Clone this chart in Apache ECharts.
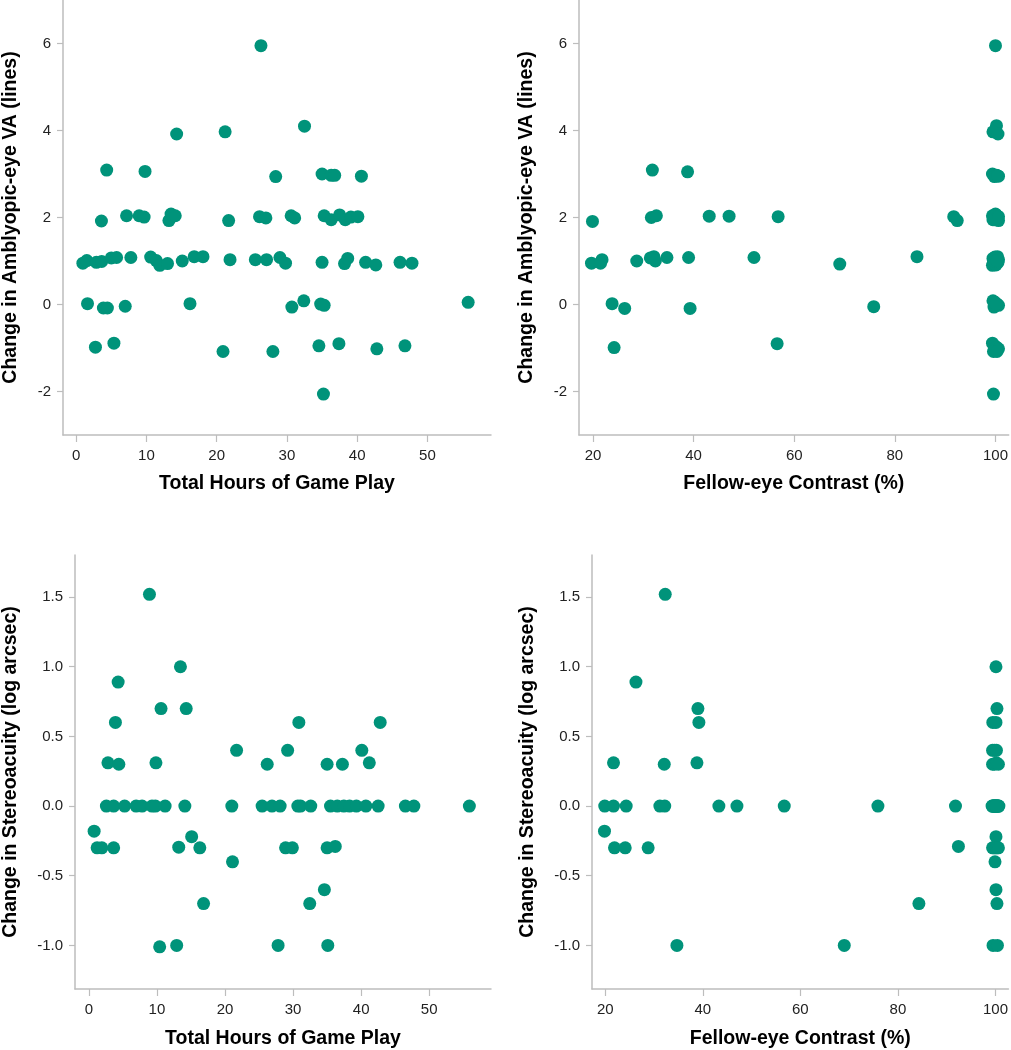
<!DOCTYPE html>
<html><head><meta charset="utf-8">
<script src="https://cdn.jsdelivr.net/npm/echarts@6/dist/echarts.min.js"></script>
<style>html,body{margin:0;padding:0;background:#fff}#c{width:1011px;height:1050px}</style>
</head><body><div id="c"></div><script>
// Panel A: Total hours vs change in amblyopic-eye VA
const hoursA = [26.3, 14.3, 21.2, 32.5,
  4.34, 9.8, 28.4, 35.0, 36.3, 36.8, 40.6,
  3.59, 7.17, 8.96, 9.67, 13.2, 13.5, 14.1, 21.7, 26.1, 27.0, 30.6, 31.1, 35.3, 36.3, 37.5, 38.3, 39.1, 40.1,
  0.95, 1.51, 2.87, 3.63, 5.0, 5.75, 7.78, 10.6, 11.4, 11.9, 13.0, 15.1, 16.8, 18.05, 21.9, 25.5, 27.1, 29.0, 29.8, 35.0, 38.2, 38.65, 41.2, 42.65, 46.1, 47.8,
  1.61, 3.87, 4.44, 6.98, 16.2, 30.7, 32.4, 34.8, 35.3, 55.8,
  2.74, 5.37, 20.9, 28.0, 34.55, 37.4, 42.8, 46.8,
  35.2];
const vaA = [5.95, 3.92, 3.97, 4.10,
  3.09, 3.06, 2.94, 3.0, 2.97, 2.97, 2.95,
  1.92, 2.04, 2.04, 2.01, 1.93, 2.08, 2.04, 1.93, 2.02, 1.99, 2.04, 1.99, 2.04, 1.95, 2.06, 1.95, 2.01, 2.02,
  0.95, 1.01, 0.97, 0.99, 1.07, 1.08, 1.08, 1.09, 1.01, 0.90, 0.94, 1.0, 1.10, 1.10, 1.03, 1.03, 1.03, 1.08, 0.95, 0.97, 0.94, 1.06, 0.97, 0.91, 0.97, 0.95,
  0.02, -0.08, -0.08, -0.04, 0.02, -0.06, 0.085, 0.01, -0.02, 0.05,
  -0.98, -0.89, -1.08, -1.08, -0.95, -0.90, -1.02, -0.95,
  -2.06];

// Panel B: Fellow-eye contrast vs change in amblyopic-eye VA
const contrastB = [100, 100.2, 99.5, 100.5,
  31.8, 38.8, 99.4, 100.2, 100.6, 99.8, 100.4,
  19.9, 31.6, 32.6, 43.1, 47.05, 56.8, 91.7, 92.4, 99.4, 99.7, 100.0, 100.3, 100.6, 99.5, 100.1, 100.4, 99.8, 100.6,
  19.7, 21.8, 21.5, 28.7, 31.4, 32.1, 32.4, 34.7, 39.0, 52.0, 69.05, 84.4,
  99.4, 99.7, 100.0, 100.3, 100.6, 99.5, 99.9, 100.2, 100.5, 99.6, 100.1, 100.4, 99.8, 100.3,
  23.8, 26.3, 39.3, 75.8, 99.5, 99.9, 100.3, 100.6, 99.7, 100.1,
  24.2, 56.6, 99.4, 99.8, 100.2, 100.6, 99.6, 100.3,
  99.6];
const vaB = [5.95, 4.11, 3.97, 3.92,
  3.09, 3.05, 3.0, 2.97, 2.95, 2.94, 2.96,
  1.91, 2.0, 2.04, 2.03, 2.03, 2.02, 2.02, 1.93, 2.04, 1.99, 2.08, 2.04, 1.93, 1.95, 2.06, 2.01, 1.95, 2.02,
  0.95, 1.03, 0.95, 1.0, 1.07, 1.10, 1.0, 1.08, 1.08, 1.08, 0.93, 1.10,
  0.90, 0.94, 0.97, 1.01, 1.03, 1.06, 1.09, 0.95, 0.97, 1.03, 0.91, 1.10, 0.99, 1.01,
  0.02, -0.09, -0.09, -0.05, 0.085, 0.05, 0.01, -0.02, -0.06, 0.02,
  -0.99, -0.90, -0.89, -0.95, -0.98, -1.02, -1.08, -1.08,
  -2.06];

// Panel C: Total hours vs change in stereoacuity
const hoursC = [8.9, 13.45, 4.3, 10.6, 14.3, 3.9, 30.85, 42.8, 21.7, 29.2, 40.1,
  2.8, 4.4, 9.85, 26.2, 35.0, 37.25, 41.2,
  2.57, 3.64, 5.25, 6.94, 7.81, 9.27, 9.77, 11.2, 14.1, 21.0, 25.45, 26.9, 28.1, 30.7, 31.1, 32.6, 35.5, 36.5, 37.46, 38.3, 39.3, 40.7, 42.5, 46.5, 47.75, 55.9,
  0.77, 15.1, 1.21, 1.9, 3.64, 13.2, 16.3, 28.9, 29.9, 35.0, 36.2, 21.1, 34.6, 16.85, 32.45, 10.4, 12.9, 27.8, 35.1];
const stereoC = [1.52, 1.0, 0.89, 0.70, 0.70, 0.60, 0.60, 0.60, 0.40, 0.40, 0.40,
  0.31, 0.30, 0.31, 0.30, 0.30, 0.30, 0.31,
  0, 0, 0, 0, 0, 0, 0, 0, 0, 0, 0, 0, 0, 0, 0, 0, 0, 0, 0, 0, 0, 0, 0, 0, 0, 0,
  -0.18, -0.22, -0.30, -0.30, -0.30, -0.295, -0.30, -0.30, -0.30, -0.30, -0.29, -0.40, -0.60, -0.70, -0.70, -1.01, -1.0, -1.0, -1.0];

// Panel D: Fellow-eye contrast vs change in stereoacuity
const contrastD = [32.3, 100.1, 26.3, 39.0, 100.3, 39.2, 99.45, 100.1, 99.4, 99.8, 100.2,
  21.7, 32.1, 38.8, 99.4, 99.8, 100.2, 100.6,
  19.9, 21.7, 24.3, 31.2, 32.2, 43.3, 47.0, 56.7, 75.9, 91.8,
  99.3, 99.5, 99.7, 99.9, 100.1, 100.3, 100.5, 100.7, 99.4, 99.6, 99.8, 100.0, 100.2, 100.4, 100.6, 100.0,
  19.85, 100.1, 21.9, 24.1, 28.8, 92.4, 99.4, 99.7, 100.0, 100.3, 100.6, 99.9, 100.1, 84.3, 100.3, 34.7, 69.0, 99.5, 100.4];
const stereoD = [1.52, 1.0, 0.89, 0.70, 0.70, 0.60, 0.60, 0.60, 0.40, 0.40, 0.40,
  0.31, 0.30, 0.31, 0.30, 0.30, 0.31, 0.30,
  0, 0, 0, 0, 0, 0, 0, 0, 0, 0,
  0, 0, 0, 0, 0, 0, 0, 0, 0, 0, 0, 0, 0, 0, 0, 0,
  -0.18, -0.22, -0.30, -0.30, -0.30, -0.29, -0.30, -0.30, -0.30, -0.30, -0.30, -0.40, -0.60, -0.70, -0.70, -1.0, -1.0, -1.0, -1.0];

const hourTicks = [0, 10, 20, 30, 40, 50];
const contrastTicks = [20, 40, 60, 80, 100];
const vaTicks = [-2, 0, 2, 4, 6];
const stereoTicks = [-1.0, -0.5, 0.0, 0.5, 1.0, 1.5];

const titleHours = 'Total Hours of Game Play';
const titleContrast = 'Fellow-eye Contrast (%)';
const titleVA = 'Change in Amblyopic-eye VA (lines)';
const titleStereo = 'Change in Stereoacuity (log arcsec)';

const zip = (a, b) => a.map((v, i) => [v, b[i]]);
const AX = '#bdbdbd';
const FONT = '"Liberation Sans", Arial, sans-serif';

function xAxis(idx, min, max, ticks, name, gap) {
  return {
    type: 'value', gridIndex: idx, min: min, max: max,
    name: name, nameLocation: 'middle', nameGap: gap,
    nameTextStyle: {fontFamily: FONT, fontSize: 19.5, fontWeight: 'bold', color: '#000'},
    axisLine: {show: true, onZero: false, lineStyle: {color: AX, width: 1.5}},
    axisTick: {show: true, length: 7, customValues: ticks, lineStyle: {color: AX, width: 1.2}},
    axisLabel: {customValues: ticks, margin: 13, fontFamily: FONT, fontSize: 15, color: '#222'},
    splitLine: {show: false}
  };
}
function yAxis(idx, min, max, ticks, name, gap, fmt) {
  return {
    type: 'value', gridIndex: idx, min: min, max: max,
    name: name, nameLocation: 'middle', nameGap: gap, nameRotate: 90,
    nameTextStyle: {fontFamily: FONT, fontSize: 19.5, fontWeight: 'bold', color: '#000'},
    axisLine: {show: true, onZero: false, lineStyle: {color: AX, width: 1.5}},
    axisTick: {show: true, length: 6, customValues: ticks, lineStyle: {color: AX, width: 1.2}},
    axisLabel: {customValues: ticks, margin: 12, fontFamily: FONT, fontSize: 15, color: '#222',
      formatter: fmt},
    splitLine: {show: false}
  };
}
function scatter(idx, data) {
  return {
    type: 'scatter', xAxisIndex: idx, yAxisIndex: idx, data: data,
    symbol: 'circle', symbolSize: 13,
    itemStyle: {color: '#00937a', opacity: 1},
    emphasis: {disabled: true}
  };
}

const chart = echarts.init(document.getElementById('c'), null, {renderer: 'canvas'});
chart.setOption({
  animation: false,
  backgroundColor: '#fff',
  grid: [
    {left: 60, top: 0, width: 431, height: 435},
    {left: 579, top: 0, width: 431, height: 435},
    {left: 72, top: 555, width: 419, height: 434},
    {left: 592, top: 555, width: 418, height: 434}
  ],
  xAxis: [
    xAxis(0, -1.88, 59.05, hourTicks, titleHours, 39),
    xAxis(1, 17.22, 102.62, contrastTicks, titleContrast, 39),
    xAxis(2, -2.04, 59.08, hourTicks, titleHours, 40),
    xAxis(3, 17.29, 102.66, contrastTicks, titleContrast, 40)
  ],
  yAxis: [
    yAxis(0, -3, 7, vaTicks, titleVA, 42, v => String(v)),
    yAxis(1, -3, 7, vaTicks, titleVA, 42, v => String(v)),
    yAxis(2, -1.313, 1.802, stereoTicks, titleStereo, 54, v => v.toFixed(1)),
    yAxis(3, -1.313, 1.802, stereoTicks, titleStereo, 54, v => v.toFixed(1))
  ],
  series: [
    scatter(0, zip(hoursA, vaA)),
    scatter(1, zip(contrastB, vaB)),
    scatter(2, zip(hoursC, stereoC)),
    scatter(3, zip(contrastD, stereoD))
  ]
});
</script></body></html>
